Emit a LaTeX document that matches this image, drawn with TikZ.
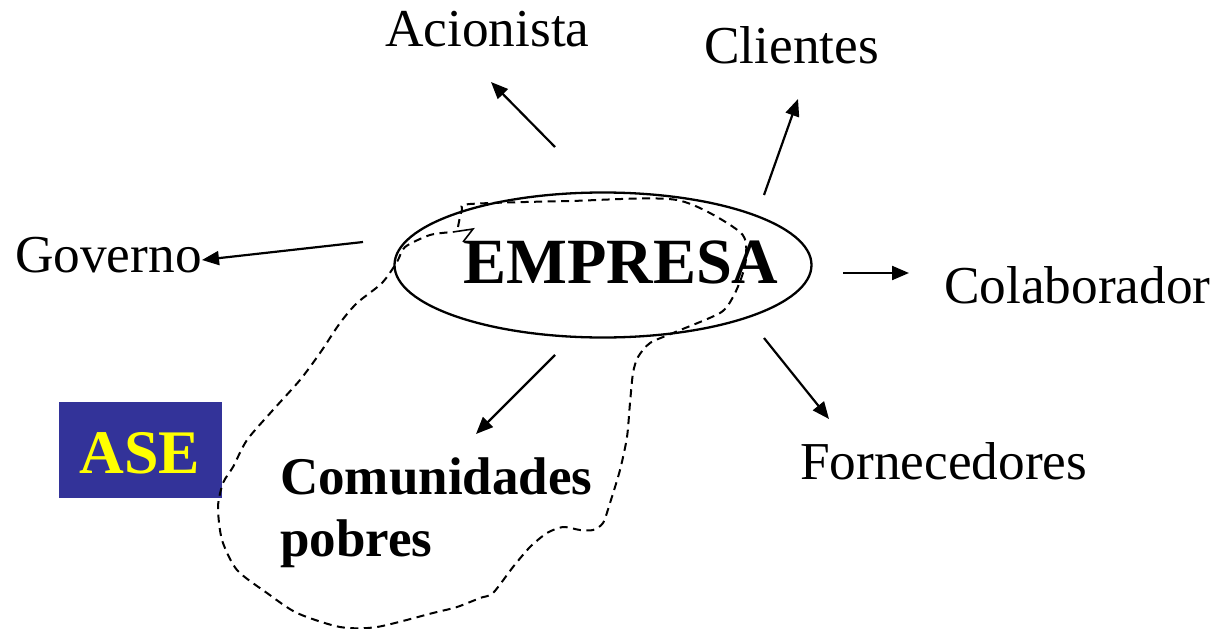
\documentclass[tikz,border=0pt]{standalone}
\usepackage{fontspec}
\setmainfont{Liberation Serif}
\usetikzlibrary{arrows.meta,shapes.geometric}
\definecolor{asebg}{HTML}{333399}
\definecolor{aseyel}{HTML}{FFFF00}
\tikzset{
  lbl/.style={inner sep=0pt, anchor=base west, font=\fontsize{53.3}{60}\selectfont},
  blbl/.style={inner sep=0pt, anchor=base west, font=\fontsize{53}{60}\selectfont\bfseries},
  arr/.style={line width=2.2pt, -{Triangle[length=17pt,width=14pt]}},
  cloud/.style={line width=2pt, dash pattern=on 8pt off 5.5pt},
}
\begin{document}
\begin{tikzpicture}[x=1pt,y=-1pt]
\useasboundingbox (0,0) rectangle (1216,629);
% ellipse
\node[draw, line width=2.3pt, ellipse, minimum width=417pt, minimum height=145pt, inner sep=0pt] (ell) at (603,265) {};
\node[inner sep=0pt, anchor=base west, font=\fontsize{64.5}{70}\selectfont\bfseries] (emp) at (463,283) {EMPRESA};
% labels
\node[lbl] (acio) at (385,46) {Acionista};
\node[lbl] (cli) at (704,63) {Clientes};
\node[lbl] (gov) at (15,272) {Governo};
\node[lbl] (col) at (944,303) {Colaborador};
\node[lbl] (forn) at (800,479) {Fornecedores};
\node[blbl] (com) at (280,494) {Comunidades};
\node[blbl] (pob) at (280,556) {pobres};
% ASE box
\node[fill=asebg, minimum width=163pt, minimum height=96pt, inner sep=0pt, anchor=north west] (asebox) at (59,402) {};
\node[inner sep=0pt, anchor=base, text=aseyel, font=\fontsize{62}{66}\selectfont\bfseries] (ase) at (140,473) {ASE};
% arrow coordinates
\coordinate (a1s) at (555,147); \coordinate (a1e) at (491,82);
\coordinate (a2s) at (764,195); \coordinate (a2e) at (798,99);
\coordinate (a3s) at (363,242); \coordinate (a3e) at (202,260);
\coordinate (a4s) at (843,273); \coordinate (a4e) at (909,273);
\coordinate (a5s) at (555,355); \coordinate (a5e) at (476,434);
\coordinate (a6s) at (764,338); \coordinate (a6e) at (829,419);
\draw[arr] (a1s) -- (a1e);
\draw[arr] (a2s) -- (a2e);
\draw[arr] (a3s) -- (a3e);
\draw[arr] (a4s) -- (a4e);
\draw[arr] (a5s) -- (a5e);
\draw[arr] (a6s) -- (a6e);
% dashed cloud
\draw[cloud] plot[smooth, tension=0.45] coordinates {
 (458,227) (462,210) (470,204) (570,201) (677,200) (740,232) (746,257) (742,276)
 (733,297) (720,313) (673,333) (650,343) (638,357) (633,373) (630,403) (627,437)
 (620,470) (610,503) (603,523) (593,530) (580,530) (563,527) (547,533) (530,547)
 (513,567) (493,593) (480,598) (457,607) (433,613) (377,627) (340,627) (297,613)
 (267,593) (237,570) (222,540) (218,507) (223,483) (233,467) (247,440) (273,410)
 (300,380) (320,353) (340,323) (357,303) (382,283) (397,262) (405,247) (430,235) (453,232)};
\draw[line width=1.6pt] (453,232) -- (473,229) -- (463,242);
\end{tikzpicture}
\end{document}
